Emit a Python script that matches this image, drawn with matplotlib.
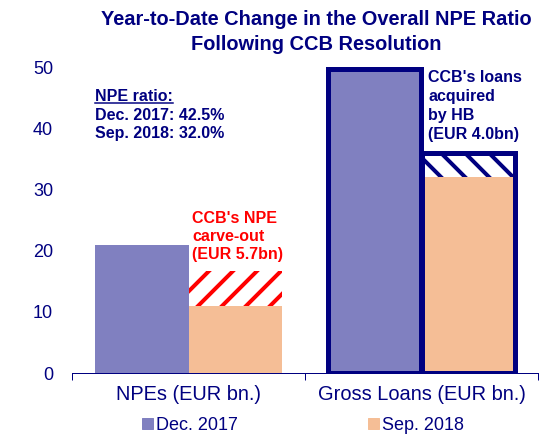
import matplotlib.pyplot as plt
import numpy as np
from matplotlib.patches import Rectangle
from matplotlib.lines import Line2D

plt.rcParams['font.family'] = ['Liberation Sans', 'DejaVu Sans']
plt.rcParams['hatch.linewidth'] = 4

categories = ["NPEs (EUR bn.)", "Gross Loans (EUR bn.)"]
series = ["Dec. 2017", "Sep. 2018"]
dec_2017 = [20.9, 49.6]
sep_2018 = [10.9, 32.0]
npe_carve_out = 5.7
loans_acquired = 4.0

navy = "#000080"
purple = "#8080C0"
peach = "#F5BE96"
red = "#FF0000"

fig = plt.figure(figsize=(7.5, 6.125), dpi=72)
ax = fig.add_axes([72 / 540, 68 / 441, 466 / 540, 306 / 441])

x = np.arange(len(categories))
w = 0.4
ax.bar(x - w / 2, dec_2017, w, color=purple, linewidth=0)
ax.bar(x + w / 2, sep_2018, w, color=peach, linewidth=0)

# carve-out and acquired loans, hatched on top of Sep. 2018
ax.bar(x[0] + w / 2, npe_carve_out, w, bottom=sep_2018[0], color="white",
       edgecolor=red, hatch="/", linewidth=0)
ax.bar(x[1] + w / 2, loans_acquired, w, bottom=sep_2018[1], color="white",
       edgecolor=navy, hatch="\\", linewidth=0)

# thick outlines around the gross loans bars
ax.bar(x[1] - w / 2, dec_2017[1], w, fill=False, edgecolor=navy, linewidth=5)
ax.bar(x[1] + w / 2, sep_2018[1] + loans_acquired, w, fill=False,
       edgecolor=navy, linewidth=5)

ax.set_xlim(-0.5, 1.5)
ax.set_ylim(0, 50)
ax.set_yticks([0, 10, 20, 30, 40, 50])
ax.tick_params(axis="y", length=0, pad=19, labelsize=18, labelcolor=navy)
ax.set_xticks([-0.5, 0.5, 1.5])
ax.set_xticklabels([])
ax.set_xticks(x, minor=True)
ax.set_xticklabels(categories, minor=True)
ax.tick_params(axis="x", which="major", length=7, direction="out", color=navy, width=1)
ax.tick_params(axis="x", which="minor", length=0, pad=12, labelsize=20, labelcolor=navy)
for s in ["top", "right", "left"]:
    ax.spines[s].set_visible(False)
ax.spines["bottom"].set_color(navy)
ax.spines["bottom"].set_linewidth(1)
ax.spines["bottom"].set_zorder(5)

fig.suptitle("Year-to-Date Change in the Overall NPE Ratio\nFollowing CCB Resolution",
             x=316 / 540, y=0.977, fontsize=20, fontweight="bold", color=navy,
             linespacing=1.36)

# annotations
lbl = ax.text(-0.40, 46.4, "NPE ratio:", fontsize=16, fontweight="bold",
              color=navy, va="top", ha="left")
ax.text(-0.40, 43.3, "Dec. 2017: 42.5%\nSep. 2018: 32.0%", fontsize=16,
        fontweight="bold", color=navy, va="top", ha="left", linespacing=1.26)
ax.text(0.015, sep_2018[0] + npe_carve_out + 1.6, "CCB's NPE\ncarve-out\n(EUR 5.7bn)",
        fontsize=16, fontweight="bold", color=red, va="bottom", ha="left",
        linespacing=1.23)
ax.text(1.028, 49.5, "CCB's loans\nacquired\nby HB\n(EUR 4.0bn)", fontsize=16,
        fontweight="bold", color=navy, va="top", ha="left", linespacing=1.33)

# underline for "NPE ratio:"
fig.canvas.draw()
bb = lbl.get_window_extent()
fig.add_artist(Line2D([bb.x0, bb.x1], [bb.y0 + 1.5, bb.y0 + 1.5], transform=None,
                      color=navy, linewidth=1.5))

handles = [Rectangle((0, 0), 1, 1, color=purple), Rectangle((0, 0), 1, 1, color=peach)]
fig.legend(handles, series, loc="lower center", bbox_to_anchor=(303 / 540, -0.02),
           ncol=2, frameon=False, fontsize=18, labelcolor=navy, handlelength=0.6,
           handleheight=0.6, handletextpad=0.2, columnspacing=7.2)

fig.savefig("out.png", dpi=72)
